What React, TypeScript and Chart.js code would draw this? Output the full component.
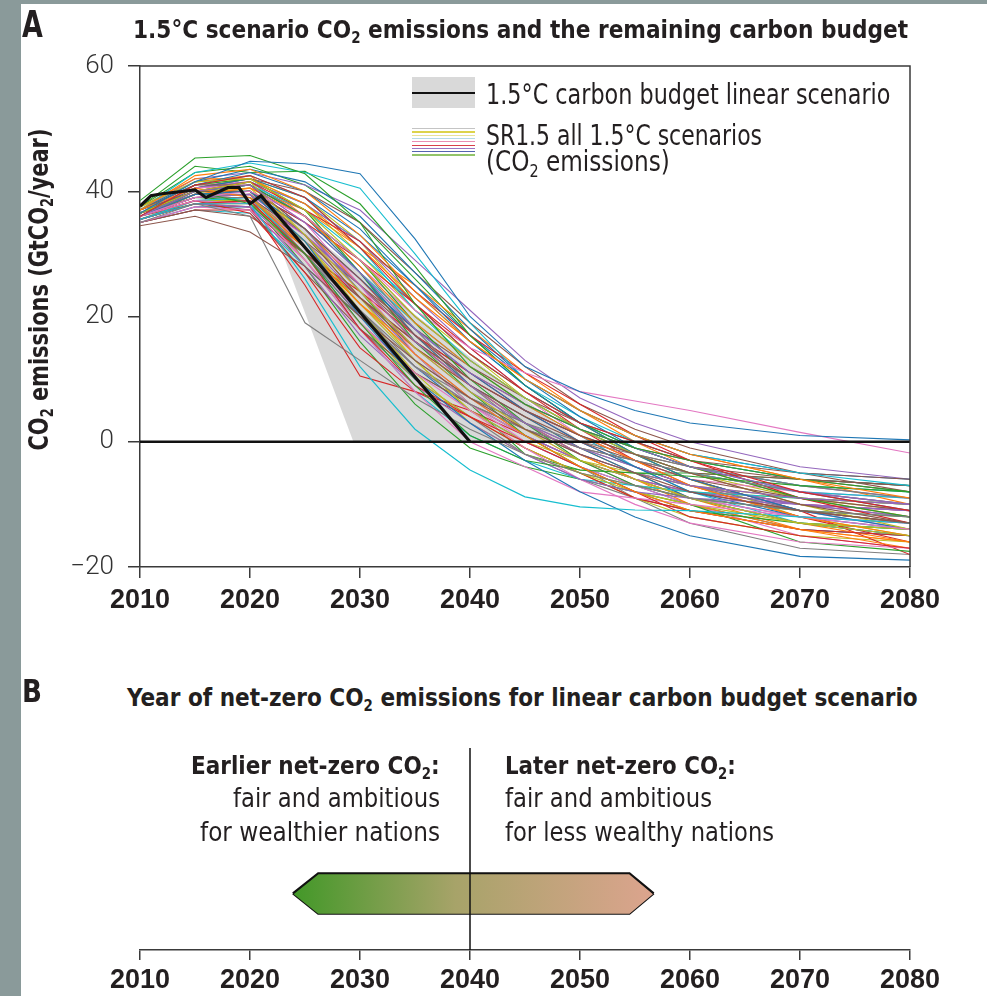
import React, { useEffect, useLayoutEffect, useRef, useState } from 'react';
import { Chart, registerables } from 'chart.js';

Chart.register(...registerables);

// ---------------- DATA ----------------
const YEARS = [2010, 2015, 2020, 2025, 2030, 2035, 2040, 2045, 2050, 2055, 2060, 2070, 2080];

const SCENARIOS: number[][] = [
  [36.5, 41.5, 44.8, 44.4, 42.8, 32.4, 20, 12, 8, 5, 3, 1, 0.3],
  [37, 42.5, 43.5, 40, 33, 24, 16, 10, 5, 1, -2, -6, -9],
  [38.5, 45.3, 45.7, 42.8, 35, 22, 12, 6, 2, -1, -3, -6, -8],
  [36, 41, 42.5, 39, 31, 22, 14, 8, 3, 0, -3, -8, -11],
  [36, 40, 41, 35, 27, 18, 11, 6, 2, -1, -4, -8, -10],
  [34.5, 36, 33.5, 28, 20, 13, 7, 2, -2, -5, -8, -11, -13],
  [36, 39, 40, 36, 29, 21, 15, 11, 8, 6.5, 5, 1.5, -1.8],
  [35, 38, 36, 19, 13, 7, 2, -2, -5, -7, -9, -11, -12],
  [36.5, 40, 41.5, 33, 24, 15, 8, 2, -3, -6, -9, -13, -15],
  [35.5, 38, 38, 26, 12, 2, -4.5, -8.8, -10.4, -10.9, -11, -12, -13],
  [36, 39.5, 40, 32, 20, 10, 3, -3, -8, -12, -15, -18.3, -18.9],
  [37, 40.5, 39, 31, 22, 14, 7, 1, -4, -8, -11, -14, -16],
  [36.5, 40, 38, 30, 19, 9, 1, -3, -4.5, -5, -5.5, -7, -8],
  [35.5, 38, 38.5, 30, 18, 9, 4, 0, -4, -8, -12, -15, -17],
  [36, 39, 39.5, 33, 25, 16, 9, 3, -2, -5, -7, -9, -10],
  [37, 41, 41, 34, 26, 17, 10, 5, 1, -2, -5, -10, -13],
  [35, 37.5, 37, 29, 18, 8, 0, -4, -8, -9, -10, -12, -14],
  [36, 39, 39, 31, 21, 12, 6, 2, -1, -3, -5, -8, -10],
  [37.5, 41.5, 42, 37, 29, 20, 13, 7, 2, -2, -5, -10, -14],
  [37, 43, 44.5, 43, 40.5, 30, 19, 10, 5, 1, -2, -5, -7],
  [37, 41, 43, 40, 34, 25, 16, 9, 3, -2, -6, -11, -14],
  [36, 39.5, 40.5, 36, 28, 19, 12, 6, 1, -3, -7, -12, -15],
  [37.5, 44, 43, 43.2, 38, 28, 17, 9, 3, -1, -4, -9, -12],
  [36.5, 40, 41.5, 37, 32, 24, 17, 11, 6, 1, -3, -9, -13],
  [35.5, 38, 37.5, 28, 17, 9, 3, -2, -6, -8, -9, -10, -11],
  [37, 40, 40, 33, 23, 15, 9, 4, 0, -3, -6, -9, -11],
  [36, 38.5, 38, 29, 19, 11, 5, -1, -6, -10, -13, -16, -17],
  [35.5, 38, 38.5, 30, 21, 13, 7, 3, 0, -2, -4, -7, -9],
  [36, 39, 39, 32, 22, 13, 5, -1, -5, -8, -10, -13, -14],
  [37, 41, 42.5, 39, 31, 21, 13, 7, 2, -2, -5, -8, -9],
  [36, 39.5, 40, 34, 26, 18, 11, 5, 0, -4, -8, -12, -14],
  [37.5, 42, 42, 38, 31, 23, 16, 10, 5, 1, -2, -6, -10],
  [36, 40, 41, 36, 29, 19, 10, 3, -3, -7, -9, -11, -12],
  [36, 38.5, 36.5, 27, 15, 8, 4, -1, -5, -9, -11, -14, -15],
  [36.5, 39.5, 40, 34, 24, 15, 8, 3, -1, -4, -7, -10, -12],
  [35, 37, 36, 30, 23, 16, 10, 5, 1, -2, -4, -6, -7],
  [37, 40.5, 41, 35, 25, 14, 6, 0, -4, -7, -9, -12, -13],
  [36, 39, 39.5, 30, 20, 12, 7, 3, -1, -4, -7, -11, -13],
  [36.5, 40, 40.5, 33, 23, 13, 5, 0, -3, -5, -7, -9, -10],
  [35.5, 38.5, 39, 30, 18, 8, 1, -3, -6, -7, -8, -9, -10],
  [36, 40, 41, 36, 27, 17, 9, 4, -1, -5, -9, -13, -15],
  [35.5, 38, 38, 31, 22, 15, 9, 4, -1, -5, -9, -13, -16],
  [37, 41, 42, 37, 27, 16, 8, 1, -4, -8, -11, -13, -14],
  [36.5, 39.5, 40, 35, 29, 22, 15, 8, 2, -3, -7, -12, -16],
  [36, 39, 39, 32, 23, 14, 7, 1, -3, -6, -8, -10, -11],
  [36, 38, 37, 27, 18, 11, 6, 2, -1, -3, -5, -6, -7],
  [35.5, 38, 38.5, 33, 26, 17, 10, 5, 1, -3, -6, -8, -9],
  [36.5, 40, 41, 36, 28, 18, 9, 2, -2, -5, -7, -10, -12],
  [36, 39.5, 40, 32, 21, 11, 3, -2, -5, -7, -8, -9, -10],
  [36.5, 40, 41, 37, 30, 22, 14, 8, 3, -1, -4, -7, -8],
  [37, 41.5, 43.5, 41.5, 36, 27, 18, 10, 4, -1, -4, -8, -11],
  [36, 39, 39.5, 34, 25, 16, 9, 3, -2, -6, -9, -14, -17],
  [36, 39, 38.5, 28, 16, 6, -1, -4, -6, -8, -10, -16, -17.5],
  [35, 37, 37, 30, 24, 17, 11, 5, 1, -3, -6, -11, -18],
  [37, 40.5, 41.5, 38, 32, 23, 15, 8, 3, -1, -4, -7, -9],
  [36.5, 39, 39, 33, 25, 17, 11, 6, 2, -1, -3, -5, -6],
  [36, 39, 39.5, 31, 20, 12, 6, 1, -3, -6, -8, -10, -11],
  [37, 40.5, 41.5, 36, 29, 20, 13, 7, 2, -2, -5, -8, -10],
  [35.5, 38.5, 38.5, 29, 19, 10, 4, -1, -5, -9, -12, -15, -16],
  [36, 40, 41.5, 38, 32, 24, 16, 9, 4, 0, -3, -6, -7],
  [36.5, 40.5, 42, 39, 33, 25, 17, 10, 5, 1, -2, -5, -6],
  [37, 41.5, 42.5, 36, 27, 17, 9, 3, -2, -6, -10, -14, -16],
  [36, 40, 40, 34, 24, 14, 6, -2, -4.5, -5, -5, -6, -7],
  [35.5, 38, 37.5, 25, 10.5, 8, 5, 1, -3, -6, -8, -11, -13],
  [37, 42, 43, 41, 37, 29, 21, 13, 7, 3, 0, -4, -6],
  [36, 40.5, 42, 40, 35, 27, 19, 12, 6, 2, -1, -5, -8],
  [35.5, 38.5, 39, 33, 24, 15, 8, 2, -3, -7, -10, -15, -17],
  [36, 39, 39, 30, 19, 11, 6, 1, -4, -9, -13, -17, -18],
  [37, 41, 42, 38, 30, 21, 14, 8, 3, -2, -6, -12, -15],
  [36.5, 40, 40, 35, 27, 19, 12, 6, 1, -4, -8, -13, -15],
  [35, 37.5, 37.5, 30, 20, 12, 5, 0, -4, -7, -10, -14, -15],
  [36, 39.5, 40.5, 37, 31, 25, 18, 11, 5, 0, -4, -9, -12],
  [37.5, 43, 44, 41, 35, 26, 17, 9, 3, -2, -6, -11, -13],
  [36, 38.5, 38, 31, 23, 16, 10, 5, 0, -4, -7, -10, -11],
  [36.5, 40, 41, 34, 25, 16, 9, 3, -2, -6, -9, -12, -13],
  [35.5, 38, 38.5, 32, 25, 18, 12, 7, 3, 0, -3, -6, -8],
  [37, 41, 41.5, 36, 28, 20, 13, 7, 1, -4, -7, -11, -14],
  [36, 39.5, 39.5, 29, 18, 10, 4, -2, -6, -9, -11, -14, -15],
  [36.5, 40.5, 42, 39, 32, 22, 14, 7, 2, -2, -5, -9, -11],
  [35, 37, 36.5, 28, 20, 12, 6, 1, -3, -6, -9, -13, -14],
];

const SCENARIO_COLORS = [
  '#1f77b4', '#ff7f0e', '#2ca02c', '#d62728', '#9467bd',
  '#8c564b', '#e377c2', '#7f7f7f', '#bcbd22', '#17becf',
];

const BUDGET_YEARS = [2010, 2011, 2012, 2013, 2014, 2015, 2016, 2017, 2018, 2019, 2020, 2021, 2040];
const BUDGET_VALUES = [37.6, 39.3, 39.6, 39.8, 40.0, 40.2, 39.0, 39.8, 40.6, 40.6, 38.0, 39.3, 0];

const BAND_SLOW_YEARS = [2021, 2050];
const BAND_SLOW_VALUES = [39.3, 0];
const BAND_FAST_YEARS = [2021, 2029.4, 2050];
const BAND_FAST_VALUES = [39.3, 0, 0];

const ZERO_YEARS = [2010, 2080];
const ZERO_VALUES = [0, 0];

const X_TICKS = [2010, 2020, 2030, 2040, 2050, 2060, 2070, 2080];
const Y_TICKS = [-20, 0, 20, 40, 60];

const ARROW_YEARS = [2023.9, 2026.2, 2054.5, 2056.7];
const ARROW_TOP_LEVELS = [2.8, 3.8, 3.8, 2.8];
const ARROW_BOTTOM_LEVELS = [2.8, 1.8, 1.8, 2.8];
const DIVIDER_YEARS = [2040, 2040];
const DIVIDER_LEVELS = [0, 10];

const LEGEND_SWATCH_COLORS = ['#c4c4c4', '#ddd34a', '#e8e39a', '#b6dbe6', '#ea8fb3', '#d8404a', '#9a74c4', '#5664b0', '#93c46a'];

// ---------------- STYLE ----------------
const INK = '#231f20';
const AXIS = '#3a3a3a';
const NARROW = '"Liberation Sans Narrow", "DejaVu Sans Condensed", "Roboto Condensed", Roboto, sans-serif';
const TICK_BOLD = { family: '"Liberation Sans", Arial, sans-serif', size: 27, weight: 'bold' as const };
const TICK_LIGHT = { family: 'Roboto, "Liberation Sans", sans-serif', size: 26, weight: 300 as any };

const pts = (xs: number[], ys: number[]) => xs.map((x, i) => ({ x, y: ys[i] }));

const framePlugin = {
  id: 'frame',
  afterDatasetsDraw(chart: any) {
    const { ctx, chartArea } = chart;
    const { left, top, right, bottom } = chartArea;
    ctx.save();
    ctx.strokeStyle = AXIS;
    ctx.lineWidth = 1.5;
    ctx.beginPath();
    ctx.moveTo(left, top);
    ctx.lineTo(right, top);
    ctx.lineTo(right, bottom);
    ctx.stroke();
    ctx.restore();
  },
};

function FitText(props: {
  left: number; baseline?: number; cy?: number; size: number; width: number;
  bold?: boolean; rotate?: boolean; weight?: number; children: React.ReactNode;
}) {
  const { left, baseline = 0, cy = 0, size, width, bold, rotate, weight, children } = props;
  const ref = useRef<HTMLSpanElement>(null);
  const [scale, setScale] = useState(1);
  useLayoutEffect(() => {
    const measure = () => {
      const el = ref.current;
      if (!el) return;
      const w = el.offsetWidth;
      if (w > 0) setScale(width / w);
    };
    measure();
    const f: any = (document as any).fonts;
    if (f && f.ready) f.ready.then(measure);
  }, [width]);
  const boxStyle: React.CSSProperties = rotate
    ? {
        position: 'absolute', left: left - width / 2, top: cy - size / 2, width, height: size,
        transform: 'rotate(-90deg)', transformOrigin: 'center center',
      }
    : { position: 'absolute', left, top: baseline - 0.846 * size, width, height: size };
  return (
    <div style={{ ...boxStyle, fontFamily: NARROW, fontSize: size, lineHeight: `${size}px`, color: INK,
      fontWeight: bold ? 700 : weight ?? 400, whiteSpace: 'nowrap' }}>
      <span ref={ref} style={{ display: 'inline-block', transformOrigin: 'left top', transform: `scaleX(${scale})` }}>
        {children}
      </span>
    </div>
  );
}

const Sub = ({ children }: { children: React.ReactNode }) => (
  <span style={{ fontSize: '0.62em', position: 'relative', top: '0.32em' }}>{children}</span>
);

export default function App() {
  const aRef = useRef<HTMLCanvasElement>(null);
  const bRef = useRef<HTMLCanvasElement>(null);

  useEffect(() => {
    const scenarioSets = SCENARIOS.map((vals, i) => ({
      data: pts(YEARS, vals),
      borderColor: SCENARIO_COLORS[i % SCENARIO_COLORS.length],
      borderWidth: 1.1,
      fill: false,
    }));
    const chartA = new Chart(aRef.current!, {
      type: 'line',
      data: {
        datasets: [
          { data: pts(ZERO_YEARS, ZERO_VALUES), borderColor: '#111', borderWidth: 2.5, fill: false },
          { data: pts(BUDGET_YEARS, BUDGET_VALUES), borderColor: '#111', borderWidth: 3.2, fill: false },
          ...scenarioSets,
          { data: pts(BAND_SLOW_YEARS, BAND_SLOW_VALUES), borderWidth: 0, borderColor: 'rgba(0,0,0,0)', backgroundColor: '#d9d9d9', fill: '+1' },
          { data: pts(BAND_FAST_YEARS, BAND_FAST_VALUES), borderWidth: 0, borderColor: 'rgba(0,0,0,0)', fill: false },
        ] as any,
      },
      options: {
        animation: false,
        responsive: false,
        events: [],
        layout: { padding: { left: 0, top: 66, right: 77, bottom: 0 } },
        elements: { point: { radius: 0, hitRadius: 0 }, line: { tension: 0 } },
        plugins: { legend: { display: false }, tooltip: { enabled: false } },
        scales: {
          x: {
            type: 'linear', min: 2010, max: 2080,
            afterBuildTicks: (s: any) => { s.ticks = X_TICKS.map((value) => ({ value })); },
            ticks: { font: TICK_BOLD, color: INK, padding: 6, maxRotation: 0, autoSkip: false, callback: (v: any) => String(v) },
            grid: { drawOnChartArea: false, tickLength: 11, color: AXIS, lineWidth: 1.5 },
            border: { display: true, color: AXIS, width: 1.5 },
            afterFit: (s: any) => { s.height = 53; },
          },
          y: {
            type: 'linear', min: -20, max: 60,
            afterBuildTicks: (s: any) => { s.ticks = Y_TICKS.map((value) => ({ value })); },
            ticks: { font: TICK_LIGHT, color: '#333', padding: 14, callback: (v: any) => (v < 0 ? '\u2212' + Math.abs(v) : String(v)) },
            grid: { drawOnChartArea: false, tickLength: 12, color: AXIS, lineWidth: 1.5 },
            border: { display: true, color: AXIS, width: 1.5 },
            afterFit: (s: any) => { s.width = 140; },
          },
        },
      } as any,
      plugins: [framePlugin],
    });

    const gradient = (c: any) => {
      const chart = c.chart;
      const xs = chart.scales && chart.scales.x;
      if (!xs || !chart.chartArea) return '#b0a070';
      const g = chart.ctx.createLinearGradient(xs.getPixelForValue(ARROW_YEARS[0]), 0, xs.getPixelForValue(ARROW_YEARS[3]), 0);
      g.addColorStop(0, '#429828');
      g.addColorStop(0.45, '#a7a369');
      g.addColorStop(1, '#dca48e');
      return g;
    };

    const chartB = new Chart(bRef.current!, {
      type: 'line',
      data: {
        datasets: [
          { data: pts(DIVIDER_YEARS, DIVIDER_LEVELS), borderColor: '#111', borderWidth: 1.5, fill: false },
          { data: pts(ARROW_YEARS, ARROW_TOP_LEVELS), borderColor: '#111', borderWidth: 2.2, backgroundColor: gradient, fill: '+1', borderJoinStyle: 'miter' },
          { data: pts(ARROW_YEARS, ARROW_BOTTOM_LEVELS), borderColor: '#111', borderWidth: 2.2, fill: false, borderJoinStyle: 'miter' },
        ] as any,
      },
      options: {
        animation: false,
        responsive: false,
        events: [],
        layout: { padding: { left: 140, top: 8, right: 77, bottom: 0 } },
        elements: { point: { radius: 0, hitRadius: 0 }, line: { tension: 0 } },
        plugins: { legend: { display: false }, tooltip: { enabled: false } },
        scales: {
          x: {
            type: 'linear', min: 2010, max: 2080,
            afterBuildTicks: (s: any) => { s.ticks = X_TICKS.map((value) => ({ value })); },
            ticks: { font: TICK_BOLD, color: INK, padding: 4, maxRotation: 0, autoSkip: false, callback: (v: any) => String(v) },
            grid: { drawOnChartArea: false, tickLength: 10, color: AXIS, lineWidth: 1.5 },
            border: { display: true, color: AXIS, width: 1.5 },
            afterFit: (s: any) => { s.height = 46; },
          },
          y: { type: 'linear', min: 0, max: 10, display: false },
        },
      } as any,
    });

    return () => { chartA.destroy(); chartB.destroy(); };
  }, []);

  return (
    <div style={{ position: 'absolute', left: 0, top: 0, width: 987, height: 996, background: '#fff', overflow: 'hidden' }}>
      <canvas ref={aRef} width={987} height={620} style={{ position: 'absolute', left: 0, top: 0, width: 987, height: 620 }} />
      <canvas ref={bRef} width={987} height={256} style={{ position: 'absolute', left: 0, top: 740, width: 987, height: 256 }} />

      <div style={{ position: 'absolute', left: 0, top: 0, width: 21, height: 996, background: '#8a9a9a' }} />
      <div style={{ position: 'absolute', left: 0, top: 0, width: 987, height: 4, background: '#8a9a9a' }} />

      {/* Panel A */}
      <FitText left={22} baseline={37} size={37} width={21} bold>A</FitText>
      <FitText left={133} baseline={38} size={25} width={775} bold>
        1.5°C scenario CO<Sub>2</Sub> emissions and the remaining carbon budget
      </FitText>
      <FitText rotate left={37.7} cy={289} size={27} width={322} bold>
        CO<Sub>2</Sub> emissions (GtCO<Sub>2</Sub>/year)
      </FitText>

      {/* Legend */}
      <div style={{ position: 'absolute', left: 412, top: 77, width: 63, height: 31, background: '#d9d9d9' }}>
        <div style={{ position: 'absolute', left: 0, top: 14.5, width: 63, height: 2.6, background: '#111' }} />
      </div>
      {LEGEND_SWATCH_COLORS.map((c, i) => (
        <div key={c} style={{ position: 'absolute', left: 412, top: 128 + i * 3.3, width: 63, height: 1.3, background: c }} />
      ))}
      <FitText left={486} baseline={105} size={28} width={404}>1.5°C carbon budget linear scenario</FitText>
      <FitText left={486} baseline={146} size={28} width={276}>SR1.5 all 1.5°C scenarios</FitText>
      <FitText left={486} baseline={172} size={28} width={184}>(CO<Sub>2</Sub> emissions)</FitText>

      {/* Panel B */}
      <FitText left={22} baseline={702} size={32} width={20} bold>B</FitText>
      <FitText left={127} baseline={706} size={25} width={791} bold>
        Year of net-zero CO<Sub>2</Sub> emissions for linear carbon budget scenario
      </FitText>
      <FitText left={191} baseline={774} size={25} width={249} bold>Earlier net-zero CO<Sub>2</Sub>:</FitText>
      <FitText left={233} baseline={807} size={26} width={207}>fair and ambitious</FitText>
      <FitText left={200} baseline={841} size={26} width={240}>for wealthier nations</FitText>
      <FitText left={505} baseline={774} size={25} width={231} bold>Later net-zero CO<Sub>2</Sub>:</FitText>
      <FitText left={505} baseline={807} size={26} width={207}>fair and ambitious</FitText>
      <FitText left={505} baseline={841} size={26} width={269}>for less wealthy nations</FitText>
    </div>
  );
}
